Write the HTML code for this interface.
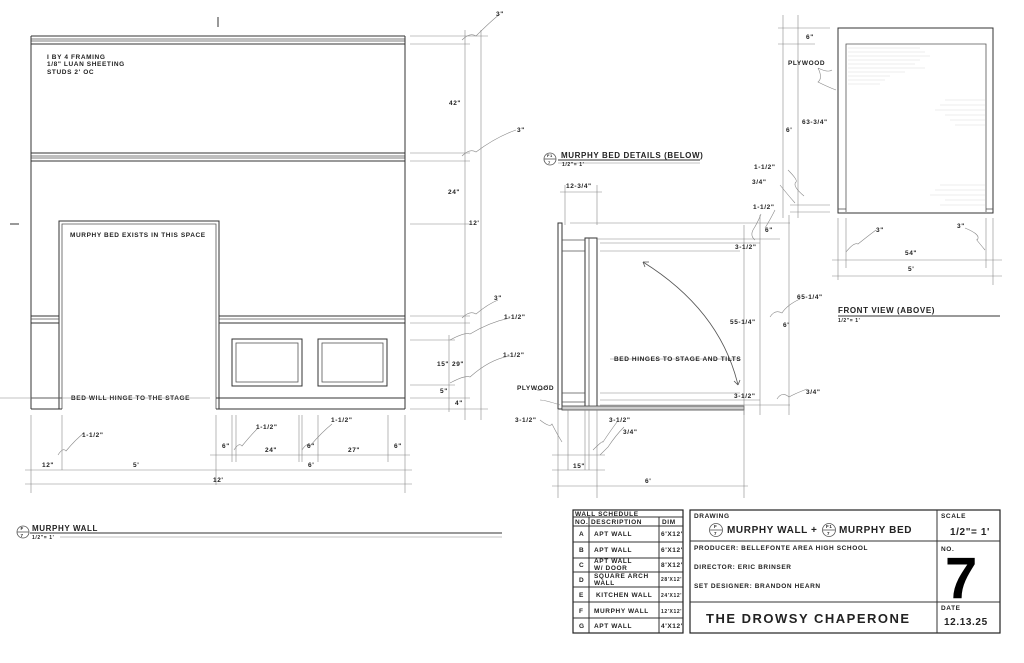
<!DOCTYPE html>
<html><head><meta charset="utf-8"><style>
html,body{margin:0;padding:0;background:#fff;}
svg{display:block;}
text{font-family:"Liberation Sans",sans-serif;font-weight:bold;fill:#222;letter-spacing:0.6px;}
.s{font-size:6.5px;}
.m{font-size:8px;}
.l{stroke:#333;stroke-width:1;fill:none;}
.t{stroke:#555;stroke-width:0.8;fill:none;}
.d{stroke:#888;stroke-width:0.6;fill:none;}
.k{stroke:#222;stroke-width:1.2;fill:none;}
</style></head><body>
<svg width="1024" height="663" viewBox="0 0 1024 663" xmlns="http://www.w3.org/2000/svg">
<rect width="1024" height="663" fill="#fff"/>
<line x1="218" y1="17" x2="218" y2="27" class="l"/>
<line x1="10" y1="224" x2="19" y2="224" class="l"/>

<g>
<line x1="31" y1="36" x2="405" y2="36" class="l"/>
<line x1="31" y1="39" x2="405" y2="39" class="t"/>
<line x1="31" y1="41" x2="405" y2="41" class="t"/>
<line x1="31" y1="44" x2="405" y2="44" class="l"/>
<line x1="31" y1="153" x2="405" y2="153" class="l"/>
<line x1="31" y1="156" x2="405" y2="156" class="t"/>
<line x1="31" y1="158" x2="405" y2="158" class="t"/>
<line x1="31" y1="161" x2="405" y2="161" class="l"/>
<line x1="31" y1="36" x2="31" y2="409" class="l"/>
<line x1="405" y1="36" x2="405" y2="409" class="l"/>
<path d="M59 409 V221 H219 V409" class="l"/>
<path d="M62 409 V224 H216 V409" class="t"/>
<line x1="31" y1="316" x2="59" y2="316" class="l"/><line x1="31" y1="319" x2="59" y2="319" class="t"/><line x1="31" y1="323" x2="59" y2="323" class="l"/>
<line x1="219" y1="316" x2="405" y2="316" class="l"/><line x1="219" y1="319" x2="405" y2="319" class="t"/><line x1="219" y1="323" x2="405" y2="323" class="l"/>
<line x1="31" y1="398" x2="62" y2="398" class="l"/><line x1="31" y1="409" x2="62" y2="409" class="l"/>
<line x1="216" y1="398" x2="405" y2="398" class="l"/><line x1="216" y1="409" x2="405" y2="409" class="l"/>
<rect x="232" y="339" width="70" height="47" class="l"/><rect x="236" y="343" width="62" height="39" class="t"/>
<rect x="318" y="339" width="69" height="47" class="l"/><rect x="322" y="343" width="61" height="39" class="t"/>
<text x="47" y="59" class="s">I BY 4 FRAMING</text>
<text x="47" y="66" class="s">1/8" LUAN SHEETING</text>
<text x="47" y="74" class="s">STUDS 2' OC</text>
<text x="70" y="237" class="s">MURPHY BED EXISTS IN THIS SPACE</text>
<text x="71" y="400" class="s">BED WILL HINGE TO THE STAGE</text>
<line x1="0" y1="398" x2="210" y2="398" class="d"/>
<line x1="465" y1="30" x2="465" y2="420" class="d"/>
<line x1="481" y1="30" x2="481" y2="420" class="d"/>
<line x1="449" y1="335" x2="449" y2="412" class="d"/>
<g class="d">
<line x1="410" y1="36" x2="488" y2="36"/><line x1="410" y1="44" x2="470" y2="44"/>
<line x1="410" y1="153" x2="470" y2="153"/><line x1="410" y1="161" x2="470" y2="161"/>
<line x1="410" y1="224" x2="470" y2="224"/>
<line x1="410" y1="316" x2="470" y2="316"/><line x1="410" y1="323" x2="470" y2="323"/>
<line x1="410" y1="340" x2="455" y2="340"/><line x1="410" y1="385" x2="455" y2="385"/>
<line x1="410" y1="398" x2="470" y2="398"/><line x1="410" y1="409" x2="488" y2="409"/>
</g>
<g class="d">
<path d="M462 40 q8 -8 14 -4 q15 -15 24 -22"/><path d="M462 156 q8 -8 14 -4 q20 -15 40 -22"/>
<path d="M462 318 q8 -8 14 -4 q12 -10 22 -14"/><path d="M450 340 q15 -8 20 -6 q20 -12 40 -16"/>
<path d="M450 383 q15 -8 20 -6 q20 -18 40 -21"/>
</g>
<text x="496" y="16" class="s">3"</text>
<text x="449" y="105" class="s">42"</text>
<text x="517" y="132" class="s">3"</text>
<text x="448" y="194" class="s">24"</text>
<text x="469" y="225" class="s">12'</text>
<text x="494" y="300" class="s">3"</text>
<text x="504" y="319" class="s">1-1/2"</text>
<text x="503" y="357" class="s">1-1/2"</text>
<text x="437" y="366" class="s">15"</text>
<text x="452" y="366" class="s">29"</text>
<text x="440" y="393" class="s">5"</text>
<text x="455" y="405" class="s">4"</text>
<g class="d">
<line x1="31" y1="415" x2="31" y2="493"/><line x1="62" y1="415" x2="62" y2="470"/>
<line x1="216" y1="415" x2="216" y2="485"/><line x1="232" y1="415" x2="232" y2="462"/><line x1="236" y1="415" x2="236" y2="462"/>
<line x1="299" y1="415" x2="299" y2="462"/><line x1="302" y1="415" x2="302" y2="462"/><line x1="318" y1="415" x2="318" y2="462"/>
<line x1="388" y1="415" x2="388" y2="462"/><line x1="405" y1="415" x2="405" y2="493"/>
<line x1="210" y1="455" x2="410" y2="455"/><line x1="25" y1="470" x2="412" y2="470"/><line x1="25" y1="484" x2="412" y2="484"/>
<path d="M58 455 q5 -8 8 -4 q10 -12 18 -18"/><path d="M234 450 q5 -8 8 -4 q10 -12 16 -18"/><path d="M302 450 q5 -8 8 -4 q12 -14 22 -22"/>
</g>
<text x="82" y="437" class="s">1-1/2"</text>
<text x="42" y="467" class="s">12"</text>
<text x="133" y="467" class="s">5'</text>
<text x="213" y="482" class="s">12'</text>
<text x="256" y="429" class="s">1-1/2"</text>
<text x="222" y="448" class="s">6"</text>
<text x="265" y="452" class="s">24"</text>
<text x="331" y="422" class="s">1-1/2"</text>
<text x="307" y="448" class="s">6"</text>
<text x="348" y="452" class="s">27"</text>
<text x="394" y="448" class="s">6"</text>
<text x="308" y="467" class="s">6'</text>
<circle cx="23" cy="532" r="6" class="t"/><line x1="17" y1="532" x2="29" y2="532" class="t"/>
<text x="20.5" y="530" style="font-size:4.5px">F</text><text x="20.5" y="537" style="font-size:4.5px">7</text>
<text x="32" y="531" class="m">MURPHY WALL</text>
<line x1="30" y1="533" x2="502" y2="533" class="l"/>
<line x1="60" y1="537" x2="502" y2="537" class="d"/>
<text x="32" y="539" style="font-size:5px">1/2"= 1'</text>
</g>

<g>
<circle cx="550" cy="159" r="6" class="t"/><line x1="544" y1="159" x2="556" y2="159" class="t"/>
<text x="547" y="157" style="font-size:4px">F1</text><text x="548" y="164" style="font-size:4px">7</text>
<text x="561" y="158" class="m">MURPHY BED DETAILS (BELOW)</text>
<line x1="558" y1="160" x2="700" y2="160" class="l"/>
<line x1="558" y1="163" x2="700" y2="163" class="d"/>
<text x="562" y="166" style="font-size:5px">1/2"= 1'</text>
<rect x="558" y="223" width="4" height="186" class="l"/>
<rect x="585" y="238" width="12" height="170" class="l"/>
<line x1="589" y1="238" x2="589" y2="408" class="t"/>
<line x1="562" y1="240" x2="585" y2="240" class="t"/><line x1="562" y1="251" x2="585" y2="251" class="t"/>
<line x1="562" y1="393" x2="585" y2="393" class="t"/><line x1="562" y1="402" x2="585" y2="402" class="t"/>
<rect x="562" y="406" width="182" height="4" fill="#ccc" stroke="#444" stroke-width="0.8"/>
<g class="d">
<line x1="597" y1="239" x2="780" y2="239"/><line x1="600" y1="243" x2="760" y2="243"/><line x1="600" y1="251" x2="740" y2="251"/>
<line x1="570" y1="223" x2="790" y2="223"/>
<line x1="600" y1="393" x2="740" y2="393"/><line x1="600" y1="400" x2="760" y2="400"/><line x1="600" y1="405" x2="790" y2="405"/>
<line x1="760" y1="215" x2="760" y2="415"/><line x1="744" y1="225" x2="744" y2="415"/><line x1="789" y1="215" x2="789" y2="415"/>
<line x1="558" y1="410" x2="558" y2="498"/><line x1="568" y1="410" x2="568" y2="470"/><line x1="585" y1="410" x2="585" y2="470"/>
<line x1="589" y1="410" x2="589" y2="470"/><line x1="597" y1="410" x2="597" y2="498"/><line x1="744" y1="410" x2="744" y2="498"/>
<line x1="552" y1="455" x2="605" y2="455"/><line x1="552" y1="470" x2="605" y2="470"/><line x1="552" y1="486" x2="748" y2="486"/>
<line x1="565" y1="185" x2="565" y2="225"/><line x1="597" y1="185" x2="597" y2="225"/><line x1="560" y1="192" x2="602" y2="192"/>
<line x1="610" y1="359" x2="740" y2="359"/>
<path d="M548 385 q-8 8 -12 4"/><path d="M560 405 q-15 -5 -20 -5"/>
<path d="M540 420 q10 8 12 4 q5 10 10 18"/><path d="M593 450 q10 -10 10 -8 q8 -12 14 -20"/><path d="M600 455 q10 -10 8 -8 q8 -12 16 -20"/>
<path d="M755 240 q-5 -4 -2 -10 q5 -8 8 -16"/><path d="M777 399 q5 -8 12 -2 q5 -3 18 -8"/>
<path d="M770 317 q5 -8 12 -4 q5 -8 18 -14"/>
</g>
<path d="M643 262 Q720 310 738 385" stroke="#555" stroke-width="0.8" fill="none"/>
<path d="M643 262 l6 0 M643 262 l2 5 M738 385 l-4 -4 M738 385 l2 -5" stroke="#555" stroke-width="0.8"/>
<text x="566" y="188" class="s">12-3/4"</text>
<text x="614" y="361" class="s">BED HINGES TO STAGE AND TILTS</text>
<text x="730" y="324" class="s">55-1/4"</text>
<text x="783" y="327" class="s">6'</text>
<text x="797" y="299" class="s">65-1/4"</text>
<text x="735" y="249" class="s">3-1/2"</text>
<text x="734" y="398" class="s">3-1/2"</text>
<text x="765" y="232" class="s">6"</text>
<text x="806" y="394" class="s">3/4"</text>
<text x="517" y="390" class="s">PLYWOOD</text>
<text x="515" y="422" class="s">3-1/2"</text>
<text x="609" y="422" class="s">3-1/2"</text>
<text x="623" y="434" class="s">3/4"</text>
<text x="573" y="468" class="s">15"</text>
<text x="645" y="483" class="s">6'</text>
</g>

<g>
<rect x="838" y="28" width="155" height="185" class="l"/>
<path d="M846 212 V44 H986 V212" class="t"/>
<line x1="838" y1="209" x2="846" y2="209" class="t"/><line x1="986" y1="209" x2="993" y2="209" class="t"/>
<g stroke="#ddd" stroke-width="0.6">
<line x1="848" y1="48" x2="920" y2="48"/><line x1="848" y1="52" x2="925" y2="52"/><line x1="848" y1="56" x2="930" y2="56"/><line x1="848" y1="60" x2="920" y2="60"/><line x1="848" y1="64" x2="915" y2="64"/><line x1="848" y1="68" x2="925" y2="68"/><line x1="848" y1="72" x2="905" y2="72"/><line x1="848" y1="76" x2="890" y2="76"/><line x1="848" y1="80" x2="885" y2="80"/><line x1="848" y1="84" x2="880" y2="84"/>
<line x1="945" y1="100" x2="985" y2="100"/><line x1="940" y1="105" x2="985" y2="105"/><line x1="935" y1="110" x2="985" y2="110"/><line x1="945" y1="115" x2="985" y2="115"/><line x1="950" y1="120" x2="985" y2="120"/><line x1="955" y1="125" x2="985" y2="125"/>
<line x1="940" y1="185" x2="985" y2="185"/><line x1="935" y1="190" x2="985" y2="190"/><line x1="930" y1="195" x2="985" y2="195"/><line x1="945" y1="200" x2="985" y2="200"/><line x1="940" y1="205" x2="985" y2="205"/>
</g>
<g class="d">
<line x1="783" y1="15" x2="783" y2="218"/><line x1="798" y1="15" x2="798" y2="218"/>
<line x1="778" y1="28" x2="830" y2="28"/><line x1="778" y1="44" x2="815" y2="44"/><line x1="790" y1="205" x2="830" y2="205"/><line x1="790" y1="212" x2="830" y2="212"/>
<line x1="838" y1="218" x2="838" y2="280"/><line x1="846" y1="218" x2="846" y2="268"/><line x1="986" y1="218" x2="986" y2="268"/><line x1="993" y1="218" x2="993" y2="285"/>
<line x1="832" y1="260" x2="1002" y2="260"/><line x1="832" y1="276" x2="1002" y2="276"/>
<path d="M818 68 q10 5 14 2 M818 68 q5 10 0 14 q10 5 18 8"/>
<path d="M788 170 q10 10 8 12 q-4 4 8 14"/><path d="M780 185 q8 10 15 18"/><path d="M775 210 q-5 10 -10 18"/>
<path d="M846 252 q8 -10 12 -8 q10 -8 18 -14"/><path d="M985 250 q-10 -12 -8 -10 q5 -5 -12 -12"/>
</g>
<text x="806" y="39" class="s">6"</text>
<text x="788" y="65" class="s">PLYWOOD</text>
<text x="802" y="124" class="s">63-3/4"</text>
<text x="786" y="132" class="s">6'</text>
<text x="754" y="169" class="s">1-1/2"</text>
<text x="752" y="184" class="s">3/4"</text>
<text x="753" y="209" class="s">1-1/2"</text>
<text x="876" y="232" class="s">3"</text>
<text x="957" y="228" class="s">3"</text>
<text x="905" y="255" class="s">54"</text>
<text x="908" y="271" class="s">5'</text>
<text x="838" y="313" class="m">FRONT VIEW (ABOVE)</text>
<line x1="838" y1="316" x2="1000" y2="316" class="l"/>
<text x="838" y="322" style="font-size:5px">1/2"= 1'</text>
</g>

<g>
<rect x="573" y="510" width="110" height="123" class="k"/>
<line x1="573" y1="517" x2="683" y2="517" class="l"/><line x1="573" y1="526" x2="683" y2="526" class="l"/>
<line x1="589" y1="517" x2="589" y2="633" class="l"/><line x1="659" y1="517" x2="659" y2="633" class="l"/>
<line x1="573" y1="542" x2="683" y2="542" class="l"/><line x1="573" y1="558" x2="683" y2="558" class="l"/>
<line x1="573" y1="572" x2="683" y2="572" class="l"/><line x1="573" y1="587" x2="683" y2="587" class="l"/>
<line x1="573" y1="602" x2="683" y2="602" class="l"/><line x1="573" y1="618" x2="683" y2="618" class="l"/>
<text x="575" y="516" class="s">WALL SCHEDULE</text>
<text x="575" y="524" class="s">NO.</text><text x="591" y="524" class="s">DESCRIPTION</text><text x="662" y="524" class="s">DIM</text>
<text x="579" y="536" class="s">A</text><text x="594" y="536" class="s">APT WALL</text><text x="661" y="536" class="s">6'X12'</text>
<text x="579" y="552" class="s">B</text><text x="594" y="552" class="s">APT WALL</text><text x="661" y="552" class="s">6'X12'</text>
<text x="579" y="567" class="s">C</text><text x="594" y="563" class="s">APT WALL</text><text x="594" y="570" class="s">W/ DOOR</text><text x="661" y="567" class="s">8'X12'</text>
<text x="579" y="582" class="s">D</text><text x="594" y="578" class="s">SQUARE ARCH</text><text x="594" y="585" class="s">WALL</text><text x="661" y="581" style="font-size:5px">28'X12'</text>
<text x="579" y="597" class="s">E</text><text x="596" y="597" class="s">KITCHEN WALL</text><text x="661" y="597" style="font-size:5px">24'X12'</text>
<text x="579" y="613" class="s">F</text><text x="594" y="613" class="s">MURPHY WALL</text><text x="661" y="613" style="font-size:5px">12'X12'</text>
<text x="579" y="628" class="s">G</text><text x="594" y="628" class="s">APT WALL</text><text x="661" y="628" class="s">4'X12'</text>
</g>

<g>
<rect x="690" y="510" width="310" height="123" class="k"/>
<line x1="937" y1="510" x2="937" y2="633" class="l"/>
<line x1="690" y1="541" x2="1000" y2="541" class="l"/>
<line x1="690" y1="602" x2="1000" y2="602" class="l"/>
<text x="694" y="518" class="s">DRAWING</text>
<circle cx="716" cy="530" r="6.5" class="t"/><line x1="710" y1="530" x2="722" y2="530" class="t"/>
<text x="714" y="528" style="font-size:4.5px">F</text><text x="714" y="535" style="font-size:4.5px">7</text>
<text x="727" y="533" style="font-size:10px">MURPHY WALL +</text>
<circle cx="829" cy="530" r="6.5" class="t"/><line x1="823" y1="530" x2="835" y2="530" class="t"/>
<text x="826" y="528" style="font-size:4.5px">F1</text><text x="827" y="535" style="font-size:4.5px">7</text>
<text x="839" y="533" style="font-size:10px">MURPHY BED</text>
<text x="941" y="518" class="s">SCALE</text>
<text x="950" y="535" style="font-size:10px">1/2"= 1'</text>
<text x="694" y="550" class="s">PRODUCER:   BELLEFONTE AREA HIGH SCHOOL</text>
<text x="694" y="569" class="s">DIRECTOR:   ERIC BRINSER</text>
<text x="694" y="588" class="s">SET DESIGNER:   BRANDON HEARN</text>
<text x="941" y="551" class="s">NO.</text>
<text x="945" y="598" style="font-size:58px;font-weight:bold;fill:#000">7</text>
<text x="941" y="610" class="s">DATE</text>
<text x="944" y="625" style="font-size:10px">12.13.25</text>
<text x="706" y="623" style="font-size:13px;letter-spacing:1.5px">THE DROWSY CHAPERONE</text>
</g>
</svg>
</body></html>
